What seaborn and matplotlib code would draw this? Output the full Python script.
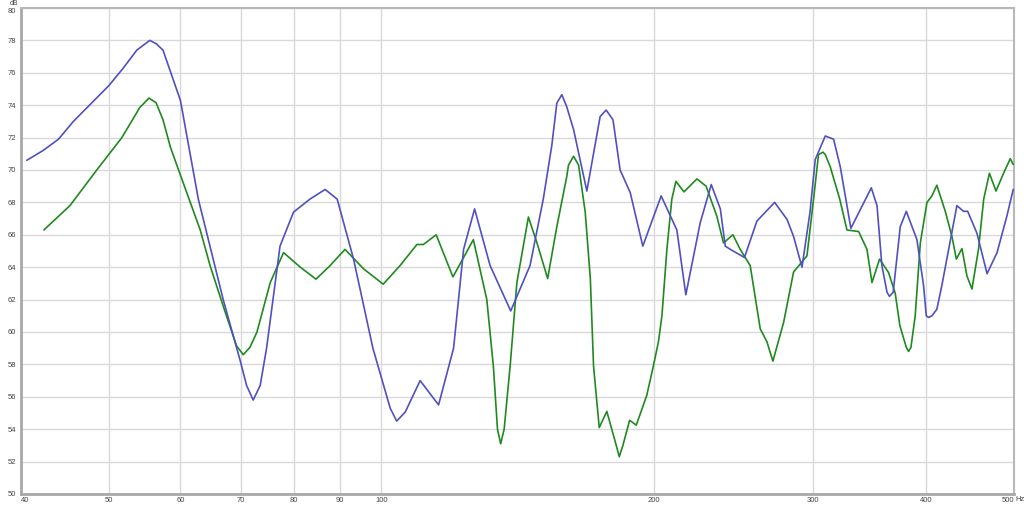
import matplotlib
matplotlib.use("Agg")
import matplotlib.pyplot as plt
import seaborn as sns
import pandas as pd

# ---- data ----
blue_freq = [40.6, 42.3, 44.0, 45.7, 50.0, 51.9, 53.7, 55.5, 56.4, 57.4, 59.4, 60.0,
             62.8, 66.9, 69.8, 71.0, 72.2, 73.5, 74.7, 77.3, 80.0, 83.4, 86.7, 89.4, 93.2, 97.9,
             102.3, 104.0, 106.3, 110.4, 115.7, 120.2, 123.3, 126.8, 131.9, 139.0, 146.0,
             151.0, 154.3, 156.3, 158.3, 160.3, 163.1, 168.7, 174.5, 177.2, 180.3, 183.6,
             188.4, 194.5, 203.8,
             212.1, 217.0, 225.1, 231.5, 236.9, 239.9, 243.0, 251.9, 260.0, 272.0,
             280.7, 285.4, 291.6, 297.6, 301.6, 309.4, 316.0, 321.4, 330.2, 347.8,
             352.9, 357.3, 362.0, 364.3, 367.7, 374.4, 380.2, 390.6, 397.3, 400.0, 402.3,
             405.8, 410.9, 416.1,
             432.4, 439.8, 444.4, 455.0, 466.9, 478.9, 491.0, 499.0]
blue_db = [70.6, 71.2, 71.9, 73.0, 75.2, 76.3, 77.4, 78.0, 77.8, 77.4, 75.0, 74.3,
           68.2, 62.0, 58.3, 56.7, 55.8, 56.7, 59.0, 65.3, 67.4, 68.2, 68.8, 68.2, 64.5, 59.0,
           55.3, 54.5, 55.06, 57.0, 55.5, 59.0, 65.1, 67.6, 64.1, 61.3, 64.1,
           68.2, 71.5, 74.13, 74.65, 73.9, 72.5, 68.7, 73.3, 73.7, 73.1, 70.0,
           68.6, 65.3, 68.4,
           66.3, 62.3, 66.75, 69.1, 67.6, 65.3, 65.1, 64.6, 66.85, 68.0,
           66.95, 65.9, 64.0, 67.4, 70.65, 72.1, 71.9, 70.2, 66.4, 68.9,
           67.8, 64.1, 62.45, 62.2, 62.45, 66.5, 67.45, 65.7, 62.85, 61.0, 60.9,
           61.0, 61.4, 62.85,
           67.8, 67.45, 67.45, 66.1, 63.6, 64.9, 67.15, 68.8]

green_freq = [42.4, 45.3, 48.5, 51.7, 54.1, 55.4, 56.4, 57.4, 58.5, 59.9, 63.1, 64.7,
              66.9, 69.2, 70.4, 71.6, 72.9, 75.4, 78.0, 81.4, 84.7, 87.8, 91.2, 95.6, 100.5,
              104.9, 109.5, 111.3, 115.0, 120.0, 126.4, 130.8, 133.0, 134.4, 135.5, 136.7,
              138.8, 141.2, 145.4, 148.6, 152.7, 156.3, 160.3, 161.0, 163.1, 165.2, 168.0,
              170.2, 171.6, 174.1, 177.5, 181.8, 183.2, 184.9, 188.1, 191.3, 196.5, 199.8,
              202.4, 204.2, 206.8,
              209.4, 211.6, 216.0, 223.2, 228.5, 234.8, 238.8, 244.6, 249.2, 255.6,
              262.2, 266.7, 270.8, 278.3, 285.4, 290.3, 295.3, 300.3, 304.1, 307.6, 309.4,
              313.3, 321.0, 326.9, 336.8, 344.0, 348.4, 355.2, 363.4, 369.6, 374.0,
              380.2, 382.4, 384.7,
              388.9, 394.0, 400.7, 405.8, 410.9, 419.8, 427.0, 431.8, 438.0, 443.6,
              449.3, 456.8, 462.9, 469.7, 477.6, 486.9, 495.3, 499.0]
green_db = [66.3, 67.8, 70.0, 72.0, 73.85, 74.44, 74.15, 73.1, 71.4, 69.8, 66.3, 64.1,
            61.6, 59.15, 58.6, 59.05, 60.0, 63.05, 64.9, 64.0, 63.26, 64.1, 65.1, 63.9, 62.95,
            64.1, 65.4, 65.4, 66.0, 63.4, 65.7, 62.0, 57.9, 54.0, 53.1, 54.0,
            57.9, 63.05, 67.1, 65.5, 63.3, 66.5, 69.6, 70.3, 70.85, 70.3, 67.4,
            63.3, 57.9, 54.1, 55.1, 53.0, 52.3, 53.0, 54.55, 54.25, 56.1, 57.9,
            59.4, 61.0, 65.1,
            68.2, 69.3, 68.65, 69.45, 69.0, 67.15, 65.5, 66.0, 65.1, 64.1,
            60.2, 59.4, 58.2, 60.6, 63.7, 64.2, 64.7, 68.2, 70.95, 71.1, 70.95,
            70.2, 68.2, 66.3, 66.2, 65.1, 63.05, 64.5, 63.67, 62.4, 60.4,
            59.05, 58.8, 59.05,
            61.0, 65.5, 68.0, 68.4, 69.06, 67.45, 65.9, 64.5, 65.15, 63.46,
            62.65, 65.1, 68.2, 69.8, 68.7, 69.8, 70.7, 70.34]

x_ticks = [40, 50, 60, 70, 80, 90, 100, 200, 300, 400, 500]
y_ticks = list(range(50, 81, 2))

# ---- styling ----
sns.set_theme(style="white")
plt.rcParams["font.family"] = ["Liberation Sans", "DejaVu Sans"]

W, H = 1024, 505
fig = plt.figure(figsize=(W / 100, H / 100), dpi=100)
ax = fig.add_axes([21 / W, 11 / H, (1014 - 21) / W, (494 - 8) / H])

blue_df = pd.DataFrame({"freq": blue_freq, "db": blue_db})
green_df = pd.DataFrame({"freq": green_freq, "db": green_db})

sns.lineplot(data=green_df, x="freq", y="db", ax=ax, color="#1f8a1f",
             linewidth=1.2, sort=False, zorder=3)
sns.lineplot(data=blue_df, x="freq", y="db", ax=ax, color="#5050c0",
             linewidth=1.2, sort=False, zorder=4)

ax.set_xscale("log")
ax.set_xlim(40, 500)
ax.set_ylim(50, 80)
ax.set_xticks(x_ticks)
ax.set_xticklabels([str(t) for t in x_ticks])
ax.xaxis.set_minor_locator(matplotlib.ticker.NullLocator())
ax.set_yticks(y_ticks)
ax.set_yticklabels([str(t) for t in y_ticks])
ax.set_xlabel("")
ax.set_ylabel("")

ax.grid(True, which="major", color="#d9d9d9", linewidth=1.0)
ax.set_axisbelow(True)
ax.tick_params(axis="both", length=0, labelsize=5.5, labelcolor="#444444")
ax.tick_params(axis="y", pad=3.5)
ax.tick_params(axis="x", pad=2.5)
xlabels = ax.get_xticklabels()
xlabels[0].set_horizontalalignment("left")
xlabels[-1].set_horizontalalignment("right")
ylabels = ax.get_yticklabels()
ylabels[-1].set_verticalalignment("top")

for side in ("left", "bottom"):
    ax.spines[side].set_color("#a8a8a8")
    ax.spines[side].set_linewidth(2.0)
for side in ("top", "right"):
    ax.spines[side].set_color("#b8b8b8")
    ax.spines[side].set_linewidth(1.5)

fig.text(18 / W, 1.0, "dB", ha="right", va="top", fontsize=5, color="#444444")
fig.text(1015 / W, 1 - 499.5 / H, "Hz", ha="left", va="center", fontsize=5.5, color="#444444")

fig.savefig("out.png", dpi=100, facecolor="white")
